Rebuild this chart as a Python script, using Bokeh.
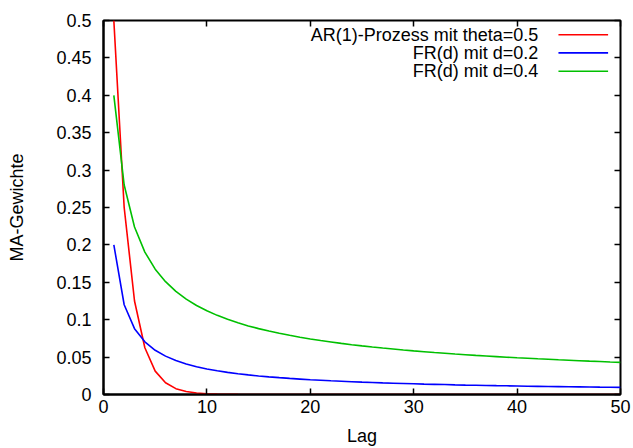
from bokeh.plotting import figure
from bokeh.models import LinearAxis, Label, Arrow, CustomJSTickFormatter, FixedTicker, Range1d
from bokeh.embed import file_html
from bokeh.resources import INLINE

# ---- data ----
lags = list(range(1, 51))
ar_theta05 = [0.5, 0.25, 0.125, 0.0625, 0.03125, 0.015625, 0.0078125, 0.00390625,
              0.00195, 0.00098, 0.00049, 0.00024, 0.00012, 0.00006, 0.00003,
              0.000015, 0.000008, 0.000004, 0.000002, 0.000001,
              0.0, 0.0, 0.0, 0.0, 0.0, 0.0, 0.0, 0.0, 0.0, 0.0,
              0.0, 0.0, 0.0, 0.0, 0.0, 0.0, 0.0, 0.0, 0.0, 0.0,
              0.0, 0.0, 0.0, 0.0, 0.0, 0.0, 0.0, 0.0, 0.0, 0.0]
fr_d02 = [0.2, 0.12, 0.088, 0.0704, 0.0591, 0.0513, 0.0454, 0.0409, 0.0372, 0.0342,
          0.0318, 0.0296, 0.0278, 0.0262, 0.0248, 0.0236, 0.0225, 0.0215, 0.0206, 0.0197,
          0.0190, 0.0183, 0.0177, 0.0171, 0.0165, 0.0160, 0.0155, 0.0151, 0.0147, 0.0143,
          0.0139, 0.0136, 0.0133, 0.0129, 0.0126, 0.0124, 0.0121, 0.0118, 0.0116, 0.0114,
          0.0111, 0.0109, 0.0107, 0.0105, 0.0103, 0.0102, 0.0100, 0.0098, 0.0097, 0.0095]
fr_d04 = [0.4, 0.28, 0.224, 0.1904, 0.1676, 0.1508, 0.1379, 0.1275, 0.1190, 0.1119,
          0.1058, 0.1005, 0.0959, 0.0917, 0.0881, 0.0848, 0.0818, 0.0791, 0.0766, 0.0743,
          0.0721, 0.0702, 0.0683, 0.0666, 0.0650, 0.0635, 0.0621, 0.0608, 0.0595, 0.0583,
          0.0572, 0.0561, 0.0551, 0.0541, 0.0532, 0.0523, 0.0515, 0.0507, 0.0499, 0.0491,
          0.0484, 0.0477, 0.0471, 0.0464, 0.0458, 0.0452, 0.0446, 0.0441, 0.0435, 0.0430]
series_labels = ["AR(1)-Prozess mit theta=0.5", "FR(d) mit d=0.2", "FR(d) mit d=0.4"]
series_colors = ["#ff0000", "#0000ff", "#00c000"]
x_ticks = [0, 10, 20, 30, 40, 50]
y_ticks = [0, 0.05, 0.1, 0.15, 0.2, 0.25, 0.3, 0.35, 0.4, 0.45, 0.5]
x_title = "Lag"
y_title = "MA-Gewichte"

FONT = "Liberation Sans"
FS = "18px"

p = figure(width=633, height=448, output_backend="svg", toolbar_location=None,
           x_range=Range1d(0, 50), y_range=Range1d(0, 0.5),
           min_border_left=103, min_border_right=13, min_border_top=20, min_border_bottom=52,
           x_axis_label=x_title, y_axis_label=y_title)
p.grid.visible = False
p.outline_line_color = "black"
p.outline_line_width = 2
p.background_fill_color = "white"
p.border_fill_color = "white"

for s, c in zip([ar_theta05, fr_d02, fr_d04], series_colors):
    p.line(lags, s, line_color=c, line_width=1.6)

fmt = CustomJSTickFormatter(code="return String(Number(tick.toFixed(2)));")

for ax in p.xaxis:
    ax.ticker = FixedTicker(ticks=x_ticks)
for ax in p.yaxis:
    ax.ticker = FixedTicker(ticks=y_ticks)
    ax.formatter = fmt

for ax in p.xaxis + p.yaxis:
    ax.axis_line_color = "black"
    ax.axis_line_width = 2
    ax.major_tick_in = 6
    ax.major_tick_out = 0
    ax.major_tick_line_width = 1.5
    ax.minor_tick_line_color = None
    ax.major_label_text_font = FONT
    ax.major_label_text_font_size = FS
    ax.major_label_text_color = "black"
    ax.axis_label_text_font = FONT
    ax.axis_label_text_font_size = FS
    ax.axis_label_text_font_style = "normal"
    ax.axis_label_text_color = "black"
p.xaxis.major_label_standoff = 5
p.xaxis.axis_label_standoff = 10
p.yaxis.major_label_standoff = 12
p.yaxis.axis_label_standoff = 26

# mirrored ticks on top and right (no labels)
blank = CustomJSTickFormatter(code="return '';")
top = LinearAxis(ticker=FixedTicker(ticks=x_ticks), formatter=blank,
                 axis_line_color=None, major_tick_in=6, major_tick_out=0,
                 major_tick_line_width=1.5, minor_tick_line_color=None,
                 major_label_standoff=0)
right = LinearAxis(ticker=FixedTicker(ticks=y_ticks), formatter=blank,
                   axis_line_color=None, major_tick_in=6, major_tick_out=0,
                   major_tick_line_width=1.5, minor_tick_line_color=None,
                   major_label_standoff=0)
p.add_layout(top, "above")
p.add_layout(right, "right")

# legend (text right-aligned, sample line to the right)
leg_y = [0.481, 0.4567, 0.4321]
for lab, c, yy in zip(series_labels, series_colors, leg_y):
    p.add_layout(Label(x=42.05, y=yy, text=lab, text_align="right", text_baseline="middle",
                       text_font=FONT, text_font_size=FS, text_color="black"))
    p.add_layout(Arrow(end=None, x_start=44.0, y_start=yy, x_end=48.8, y_end=yy,
                       line_color=c, line_width=1.6))

open("out.html", "w").write(file_html(p, INLINE))
